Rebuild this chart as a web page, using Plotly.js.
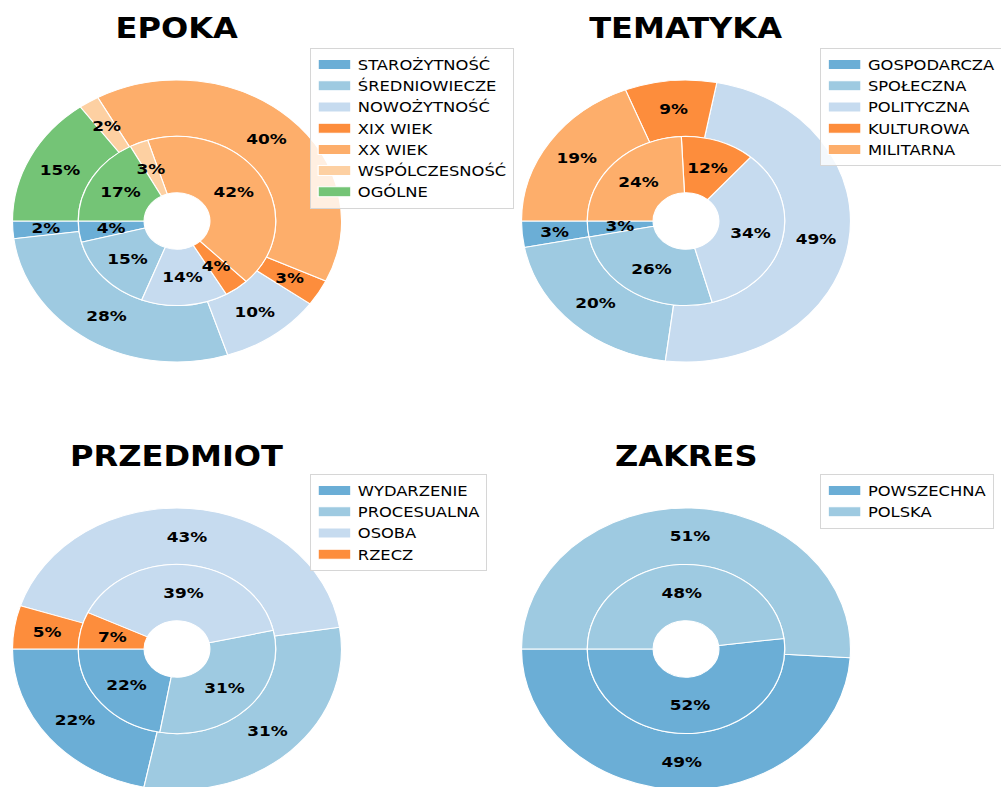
<!DOCTYPE html>
<html>
<head>
<meta charset="utf-8">
<script src="https://cdn.plot.ly/plotly-3.0.1.min.js"></script>
<style>
html, body { margin: 0; padding: 0; overflow: hidden; background: #fff; width: 1001px; height: 787px; }
#chart { width: 858px; height: 800px; transform: scaleX(1.16667); transform-origin: 0 0; }
</style>
</head>
<body>
<div id="chart"></div>
<script>
// ---------------- DATA ----------------
const epokaLabels = ['STAROŻYTNOŚĆ', 'ŚREDNIOWIECZE', 'NOWOŻYTNOŚĆ', 'XIX WIEK', 'XX WIEK', 'WSPÓLCZESNOŚĆ', 'OGÓLNE'];
const epokaOuter = [2, 28, 10, 3, 40, 2, 15];
const epokaInner = [4, 15, 14, 4, 42, 3, 17];
const epokaColors = ['#6baed6', '#9ecae1', '#c6dbef', '#fd8d3c', '#fdae6b', '#fdd0a2', '#74c476'];

const tematykaLabels = ['GOSPODARCZA', 'SPOŁECZNA', 'POLITYCZNA', 'KULTUROWA', 'MILITARNA'];
const tematykaOuter = [3, 20, 49, 9, 19];
const tematykaInner = [3, 26, 34, 12, 24];
const tematykaColors = ['#6baed6', '#9ecae1', '#c6dbef', '#fd8d3c', '#fdae6b'];

const przedmiotLabels = ['WYDARZENIE', 'PROCESUALNA', 'OSOBA', 'RZECZ'];
const przedmiotOuter = [22, 31, 43, 5];
const przedmiotInner = [22, 31, 39, 7];
const przedmiotColors = ['#6baed6', '#9ecae1', '#c6dbef', '#fd8d3c'];

const zakresLabels = ['POWSZECHNA', 'POLSKA'];
const zakresOuter = [49, 51];
const zakresInner = [52, 48];
const zakresColors = ['#6baed6', '#9ecae1'];

const chartTitles = ['EPOKA', 'TEMATYKA', 'PRZEDMIOT', 'ZAKRES'];

// ---------------- LAYOUT HELPERS ----------------
const W = 858, H = 800, R = 141;
const centers = [[151.7, 221], [588, 221], [151.7, 649], [588, 649]];
const legendPos = [[265.7, 48], [702.9, 48], [265.7, 474], [702.9, 474]];
const titleY = [28, 28, 456, 456];

function dom(cx, cy, r) {
  return { x: [(cx - r) / W, (cx + r) / W], y: [1 - (cy + r) / H, 1 - (cy - r) / H] };
}
function sum(a) { return a.reduce((s, v) => s + v, 0); }
function rot(vals) { return 270 - 360 * vals[0] / sum(vals); }

function labelPositions(vals, r) {
  const tot = sum(vals);
  let cum = 0;
  const xs = [], ys = [], txt = [];
  vals.forEach(v => {
    const th = Math.PI + 2 * Math.PI * (cum + v / 2) / tot;
    xs.push(r * Math.cos(th));
    ys.push(r * Math.sin(th));
    txt.push(Math.round(100 * v / tot) + '%');
    cum += v;
  });
  return { xs, ys, txt };
}

const charts = [
  [epokaLabels, epokaOuter, epokaInner, epokaColors],
  [tematykaLabels, tematykaOuter, tematykaInner, tematykaColors],
  [przedmiotLabels, przedmiotOuter, przedmiotInner, przedmiotColors],
  [zakresLabels, zakresOuter, zakresInner, zakresColors]
];

const traces = [];
const annotations = [];
const layout = {
  width: W, height: H,
  margin: { l: 0, r: 0, t: 0, b: 0, autoexpand: false },
  paper_bgcolor: '#fff', plot_bgcolor: 'rgba(0,0,0,0)',
  showlegend: true,
  font: { family: 'DejaVu Sans', color: '#000' }
};

charts.forEach((c, i) => {
  const [labels, outer, inner, colors] = c;
  const [cx, cy] = centers[i];
  const lid = i === 0 ? 'legend' : 'legend' + (i + 1);
  const ax = i === 0 ? '' : String(i + 1);
  const line = { color: '#ffffff', width: 1 };

  traces.push({
    type: 'pie', labels: labels, values: outer, sort: false,
    direction: 'counterclockwise', rotation: rot(outer), hole: 0.6,
    domain: dom(cx, cy, R), marker: { colors: colors, line: line },
    textinfo: 'none', hoverinfo: 'label+percent', legend: lid
  });
  traces.push({
    type: 'pie', labels: labels, values: inner, sort: false,
    direction: 'counterclockwise', rotation: rot(inner), hole: 1 / 3,
    domain: dom(cx, cy, 0.6 * R), marker: { colors: colors, line: line },
    textinfo: 'none', hoverinfo: 'label+percent', legend: lid
  });

  const d = dom(cx, cy, R);
  layout['xaxis' + ax] = { domain: d.x, range: [-1, 1], visible: false, fixedrange: true, anchor: 'y' + ax };
  layout['yaxis' + ax] = { domain: d.y, range: [-1, 1], visible: false, fixedrange: true, anchor: 'x' + ax };

  [labelPositions(outer, 0.8), labelPositions(inner, 0.4)].forEach(p => {
    traces.push({
      type: 'scatter', x: p.xs, y: p.ys, mode: 'none',
      xaxis: 'x' + ax, yaxis: 'y' + ax, showlegend: false, hoverinfo: 'skip'
    });
    p.xs.forEach((x, k) => {
      annotations.push({
        xref: 'x' + ax, yref: 'y' + ax, x: x, y: p.ys[k], text: p.txt[k],
        showarrow: false, xanchor: 'center', yanchor: 'middle',
        font: { family: 'DejaVu Sans', size: 14.5, weight: 'bold', color: '#000' }
      });
    });
  });

  annotations.push({
    xref: 'paper', yref: 'paper', x: cx / W, y: 1 - titleY[i] / H,
    text: chartTitles[i], showarrow: false, xanchor: 'center', yanchor: 'middle',
    font: { family: 'DejaVu Sans', size: 27.5, weight: 'bold', color: '#000' }
  });

  layout[lid] = {
    x: legendPos[i][0] / W, y: 1 - legendPos[i][1] / H, xanchor: 'left', yanchor: 'top',
    bgcolor: 'rgba(255,255,255,0.8)', bordercolor: '#d6d6d6', borderwidth: 1,
    font: { family: 'DejaVu Sans', size: 14, color: '#000' }, traceorder: 'normal'
  };
});

layout.annotations = annotations;

Plotly.newPlot('chart', traces, layout, { staticPlot: true, displayModeBar: false }).then(() => {
  document.querySelectorAll('#chart .legendpie').forEach(p => p.setAttribute('d', 'M14,5H-14V-5H14Z'));
});
</script>
</body>
</html>
